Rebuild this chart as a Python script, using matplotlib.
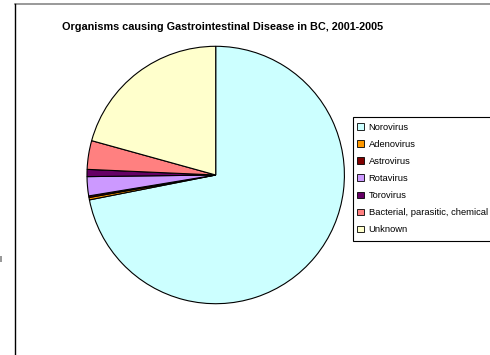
import matplotlib.pyplot as plt
from matplotlib.lines import Line2D
from matplotlib.patches import Rectangle

plt.rcParams['font.family'] = ['Liberation Sans', 'DejaVu Sans']

organisms = ["Norovirus", "Adenovirus", "Astrovirus", "Rotavirus",
             "Torovirus", "Bacterial, parasitic, chemical", "Unknown"]
share = [71.9, 0.3, 0.2, 2.4, 0.9, 3.6, 20.7]
colors = ["#CCFFFF", "#FF9900", "#800000", "#CC99FF",
          "#660066", "#FF8080", "#FFFFCC"]

W, H = 490, 355
fig = plt.figure(figsize=(W / 100, H / 100), dpi=100)

def fx(px):
    return px / W

def fy(py):
    return 1 - py / H

# pie area: centre (215.7, 175) px, radius 130 px
ax = fig.add_axes([fx(215.7 - 130), fy(305), 260 / W, 260 / H])
wedges, _ = ax.pie(share, colors=colors, startangle=90, counterclock=False,
                   radius=1, wedgeprops=dict(edgecolor="black", linewidth=0.8))
ax.set_xlim(-1.01, 1.01)
ax.set_ylim(-1.01, 1.01)
ax.axis("off")

fig.text(fx(223), fy(27),
         "Organisms causing Gastrointestinal Disease in BC, 2001-2005",
         ha="center", va="center", fontsize=7.85, fontweight="bold")

# legend box, running off the right edge
fig.add_artist(Rectangle((fx(353), fy(241)), fx(160), 124 / H,
                         facecolor="white", edgecolor="black", lw=0.8, zorder=4))
leg = fig.legend(wedges, organisms, loc="upper left",
                 bbox_to_anchor=(fx(357), fy(122.5)), borderaxespad=0,
                 borderpad=0, fontsize=6.75, frameon=False,
                 handlelength=0.7, handleheight=0.7, handletextpad=0.55,
                 labelspacing=0.87)
leg.set_zorder(5)
for h in leg.legend_handles:
    h.set_edgecolor("black")
    h.set_linewidth(0.6)

# chart frame
fig.add_artist(Line2D([fx(15), 1], [fy(4), fy(4)], color="#888888", lw=1.2))
fig.add_artist(Line2D([fx(15), fx(15)], [0, fy(4)], color="black", lw=1.0))
fig.add_artist(Rectangle((0, fy(262)), 2 / W, 6 / H, color="#999999", lw=0))

fig.savefig("out.png", dpi=100)
